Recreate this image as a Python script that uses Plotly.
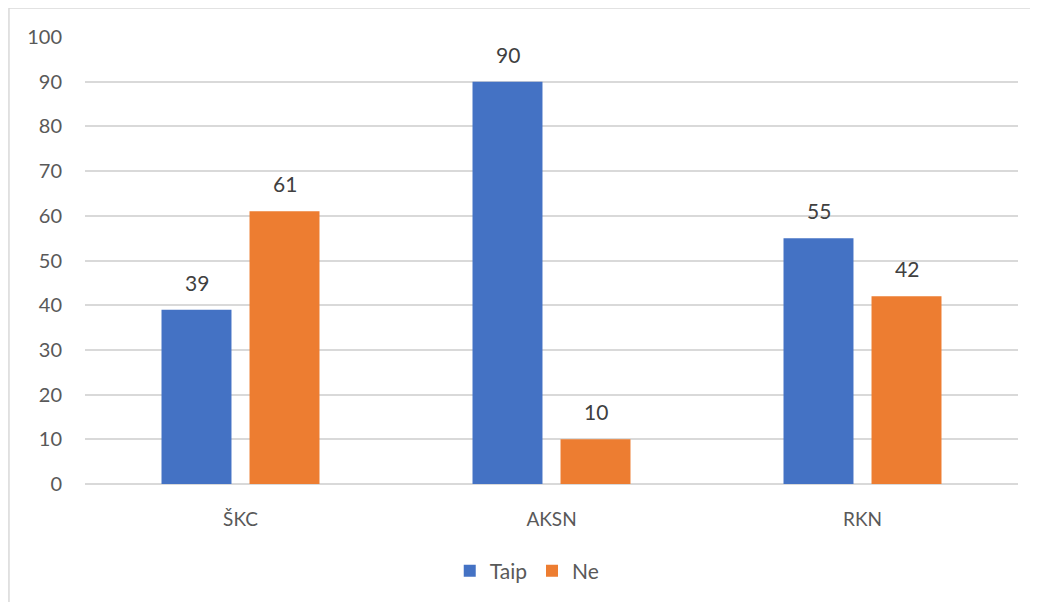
import plotly.graph_objects as go

categories = ["ŠKC", "AKSN", "RKN"]
taip = [39, 90, 55]
ne = [61, 10, 42]
series_names = ["Taip", "Ne"]
y_ticks = [0, 10, 20, 30, 40, 50, 60, 70, 80, 90, 100]

FONT = "Lato, Open Sans, sans-serif"
fig = go.Figure()
annotations = []
for name, vals, color, shift in [(series_names[0], taip, "#4472C4", -44), (series_names[1], ne, "#ED7D31", 44)]:
    fig.add_trace(go.Bar(
        x=categories, y=vals, name=name, marker_color=color, marker_line_width=0,
    ))
    for c, v in zip(categories, vals):
        annotations.append(dict(x=c, y=v, text=str(v), showarrow=False, xshift=shift, yshift=13,
                                yanchor="bottom", font=dict(size=21, color="#404040", family=FONT)))

fig.update_layout(
    width=1030, height=594,
    margin=dict(l=77, r=20, t=29, b=117),
    paper_bgcolor="white", plot_bgcolor="white",
    barmode="group", bargap=0.434, bargroupgap=0.205,
    font=dict(family=FONT, color="#595959", size=19),
    showlegend=True,
    annotations=annotations,
    legend=dict(orientation="h", x=0.474, xanchor="center", y=-0.192, yanchor="middle",
                font=dict(size=21, color="#595959"), itemwidth=30, traceorder="normal"),
    shapes=[dict(type="rect", xref="paper", yref="paper", x0=-0.0815, x1=1.2, y0=-0.5, y1=1.0647,
                 line=dict(color="#D9D9D9", width=1.5), fillcolor="rgba(0,0,0,0)", layer="below")],
)
fig.update_xaxes(showgrid=False, showline=False, ticks="", ticklabelstandoff=22,
                 tickfont=dict(size=19, color="#595959"))
fig.update_yaxes(range=[0, 100], tickvals=y_ticks, showgrid=True, gridcolor="#D9D9D9", gridwidth=1.5,
                 zeroline=True, zerolinecolor="#D9D9D9", zerolinewidth=1.5, showline=False, ticks="",
                 ticklabelstandoff=22, tickfont=dict(size=20, color="#595959"))

fig.write_html("out.html")
